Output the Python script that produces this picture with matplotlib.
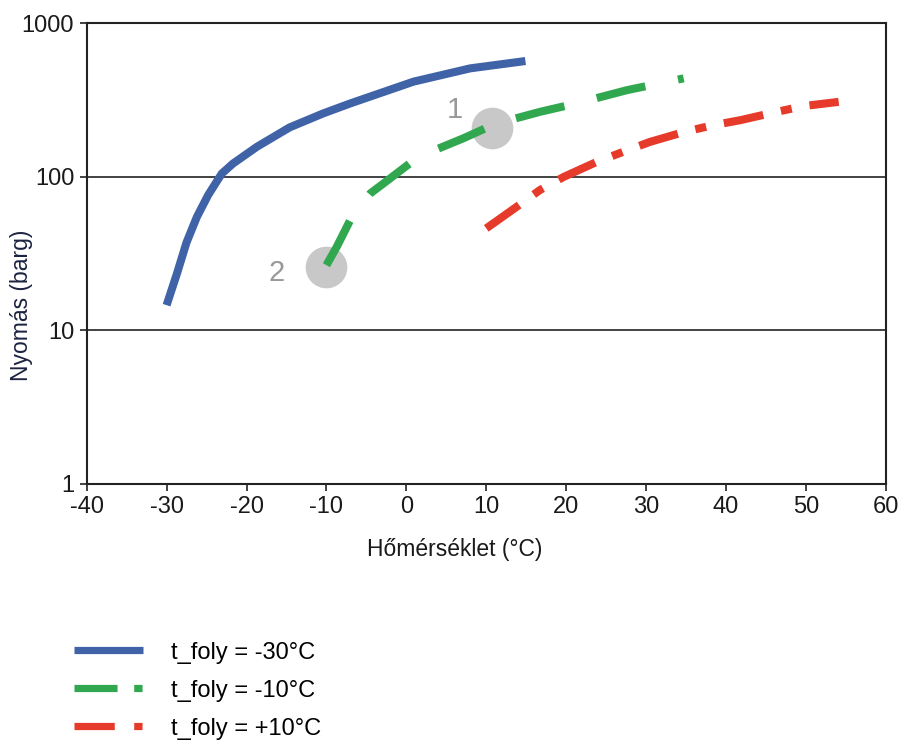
import matplotlib
matplotlib.use("Agg")
import matplotlib.pyplot as plt
from matplotlib.lines import Line2D

plt.rcParams["font.family"] = ["Liberation Sans", "DejaVu Sans"]
plt.rcParams["lines.scale_dashes"] = False
plt.rcParams["axes.unicode_minus"] = False

# t_foly = -30 °C
blue_t = [-30.0, -28.7, -27.5, -26.2, -24.8, -23.1, -21.7, -18.7, -14.6, -10.4,
          -7.0, 0.9, 8.0, 14.9]
blue_p = [14.6, 23.5, 37.5, 55.0, 76.1, 105, 122, 157, 210, 259,
          301, 417, 509, 568]

# t_foly = -10 °C
green_t = [-10.0, -8.7, -6.6, -4.5, -2.3, 1.5, 7.1, 11.1, 16.7, 21.3, 27.6, 34.7]
green_p = [26.6, 35.1, 57.8, 78.1, 95.3, 135, 178, 221, 265, 301, 367, 438]

# t_foly = +10 °C
red_t = [10.0, 13.8, 16.7, 19.7, 23.8, 27.2, 30.5, 34.9, 38.4, 41.8, 46.2, 49.7, 54.1]
red_p = [46.2, 63.8, 82, 100, 125, 146, 169, 197, 217, 234, 264, 289, 308]

# marked points
mark_t = [10.7, -10.1]
mark_p = [209, 25.7]
mark_lbl = ["1", "2"]

labels = ["t_foly = -30°C", "t_foly = -10°C", "t_foly = +10°C"]
BLUE, GREEN, RED = "#3f63a6", "#31a84f", "#e63b2a"

fig = plt.figure(figsize=(9.03, 7.40), dpi=100)
ax = fig.add_axes([0.096, 0.346, 0.885, 0.6225])

ax.scatter(mark_t, mark_p, s=900, color="#c8c8c8", zorder=1, linewidths=0)
ax.text(mark_t[0] - 4.6, mark_p[0] * 1.3, mark_lbl[0], fontsize=21, color="#999999",
        ha="center", va="center")
ax.text(mark_t[1] - 6.1, mark_p[1] * 0.92, mark_lbl[1], fontsize=21, color="#999999",
        ha="center", va="center")

ax.plot(blue_t, blue_p, color=BLUE, lw=5.8, solid_capstyle="butt",
        solid_joinstyle="round", zorder=3)
ax.plot(green_t, green_p, color=GREEN, lw=5.8, dashes=(36, 24),
        dash_joinstyle="round", zorder=3)
ax.plot(red_t, red_p, color=RED, lw=5.8, dashes=(29, 13, 8, 13),
        dash_joinstyle="round", zorder=3)

ax.set_yscale("log")
ax.set_xlim(-40, 60)
ax.set_ylim(1, 1000)
ax.set_xticks(range(-40, 61, 10))
ax.set_yticks([1, 10, 100, 1000])
ax.set_yticklabels(["1", "10", "100", "1000"])
ax.yaxis.set_minor_locator(matplotlib.ticker.NullLocator())
ax.grid(axis="y", color="#222222", lw=1.2)
ax.set_axisbelow(True)
ax.tick_params(labelsize=17, length=5, width=1.2, color="#222222",
               labelcolor="#1a1a1a", direction="out", pad=4)
for s in ax.spines.values():
    s.set_color("#222222")
    s.set_linewidth(1.5)

ax.set_xlabel("Hőmérséklet (°C)", fontsize=16.5, color="#1a1a1a")
ax.xaxis.set_label_coords(0.461, -0.117)
ax.set_ylabel("Nyomás (barg)", fontsize=16.5, color="#1c2340")
ax.yaxis.set_label_coords(-0.067, 0.388)

handles = [
    Line2D([0], [0], color=BLUE, lw=5.2, solid_capstyle="butt"),
    Line2D([0], [0], color=GREEN, lw=5.2, dashes=(31, 12, 6, 40)),
    Line2D([0], [0], color=RED, lw=5.2, dashes=(29, 14, 6, 40)),
]
fig.legend(handles, labels, loc="upper left", bbox_to_anchor=(0.069, 0.149),
           frameon=False, fontsize=17, handlelength=2.9, handletextpad=1.2,
           labelspacing=0.68, borderpad=0)

fig.savefig("out.png", dpi=100)
